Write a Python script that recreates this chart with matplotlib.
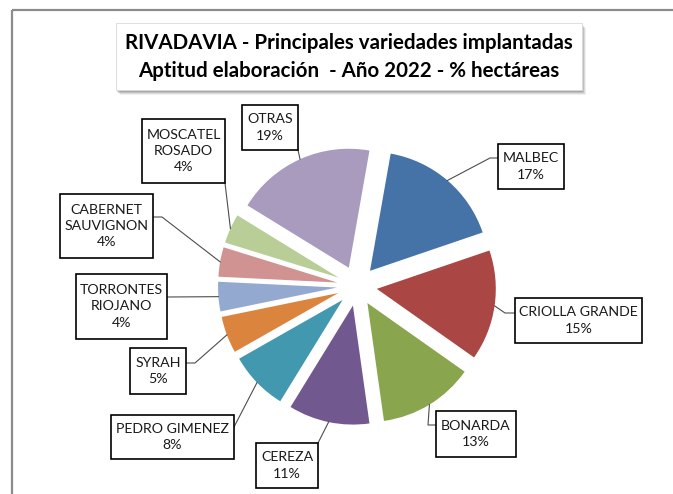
import matplotlib
matplotlib.use('Agg')
import matplotlib.pyplot as plt
from matplotlib.patches import Rectangle
import numpy as np

# datos
variedades = ['MALBEC', 'CRIOLLA GRANDE', 'BONARDA', 'CEREZA', 'PEDRO GIMENEZ',
              'SYRAH', 'TORRONTES\nRIOJANO', 'CABERNET\nSAUVIGNON',
              'MOSCATEL\nROSADO', 'OTRAS']
porcentajes = [17, 15, 13, 11, 8, 5, 4, 4, 4, 19]
colores = ['#4572A7', '#AA4643', '#89A54E', '#71588F', '#4198AF',
           '#DB843D', '#93A9CF', '#D19392', '#B9CD97', '#A99BBD']
titulo = 'RIVADAVIA - Principales variedades implantadas\nAptitud elaboración  - Año 2022 - % hectáreas'

W, H = 673, 494

def py(y):
    # pixel (desde arriba) -> coordenada de datos
    return H - y

# cajas de etiquetas en pixeles (x0, y0, x1, y1)
cajas = [(498, 144, 564, 189), (515, 298, 642, 343), (436, 411, 516, 457),
         (256, 443, 318, 488), (111, 415, 234, 459), (130, 348, 186, 394),
         (76, 274, 167, 339), (60, 194, 153, 258), (142, 119, 225, 183),
         (242, 105, 298, 150)]
# puntos de las lineas guia (desde la caja hacia el sector)
guias = [[(498, 158), (490, 158)], [(515, 313), (505, 313)],
         [(436, 425), (428, 425)], [(318, 443)], [(234, 427)],
         [(186, 363), (195, 363)], [(167, 297)], [(153, 217), (162, 217)],
         [(225, 183)], [(298, 150)]]

fig = plt.figure(figsize=(W / 100, H / 100), dpi=100)
ax = fig.add_axes([0, 0, 1, 1])

radio = 119
centro = (357, py(286))
wedges, _ = ax.pie(porcentajes, colors=colores, startangle=80, counterclock=False,
                   radius=radio, center=centro, explode=[20] * len(porcentajes),
                   wedgeprops=dict(linewidth=0))
ax.set_xlim(0, W)
ax.set_ylim(0, H)
ax.set_aspect('equal')
ax.axis('off')

# marco exterior
ax.plot([12, W], [py(10), py(10)], color='#8c8c8c', lw=1.6, solid_capstyle='butt')
ax.plot([12, 12], [py(10), 0], color='#8c8c8c', lw=1.6, solid_capstyle='butt')

# etiquetas
for w, nombre, val, caja, guia in zip(wedges, variedades, porcentajes, cajas, guias):
    ang = np.deg2rad((w.theta1 + w.theta2) / 2)
    cx, cy = w.center
    punto = (cx + w.r * np.cos(ang), cy + w.r * np.sin(ang))
    xs = [g[0] for g in guia] + [punto[0]]
    ys = [py(g[1]) for g in guia] + [punto[1]]
    ax.plot(xs, ys, color='#4d4d4d', lw=0.8, zorder=3)
    x0, y0, x1, y1 = caja
    ax.add_patch(Rectangle((x0, py(y1)), x1 - x0, y1 - y0, facecolor='white',
                           edgecolor='black', lw=1.2, zorder=4))
    ax.text((x0 + x1) / 2, py((y0 + y1) / 2), f'{nombre}\n{val}%', ha='center',
            va='center', fontsize=10.2, family='Lato', color='#1a1a1a',
            linespacing=1.42, zorder=5)

# titulo con sombra
tx0, ty0, tx1, ty1 = 116, 23, 582, 90
for k, a in [(5, 0.08), (4, 0.12), (3, 0.16), (2, 0.2)]:
    ax.add_patch(Rectangle((tx0 + k - 1, py(ty1 + k)), tx1 - tx0, ty1 - ty0,
                           facecolor='#404040', edgecolor='none', alpha=a, zorder=5))
ax.add_patch(Rectangle((tx0, py(ty1)), tx1 - tx0, ty1 - ty0, facecolor='white',
                       edgecolor='#d9d9d9', lw=0.6, zorder=6))
ax.text((tx0 + tx1) / 2, py(57), titulo, ha='center', va='center', fontsize=14.8,
        family='Lato', fontweight='bold', color='black', linespacing=1.45, zorder=7)

fig.savefig('out.png', dpi=100)
